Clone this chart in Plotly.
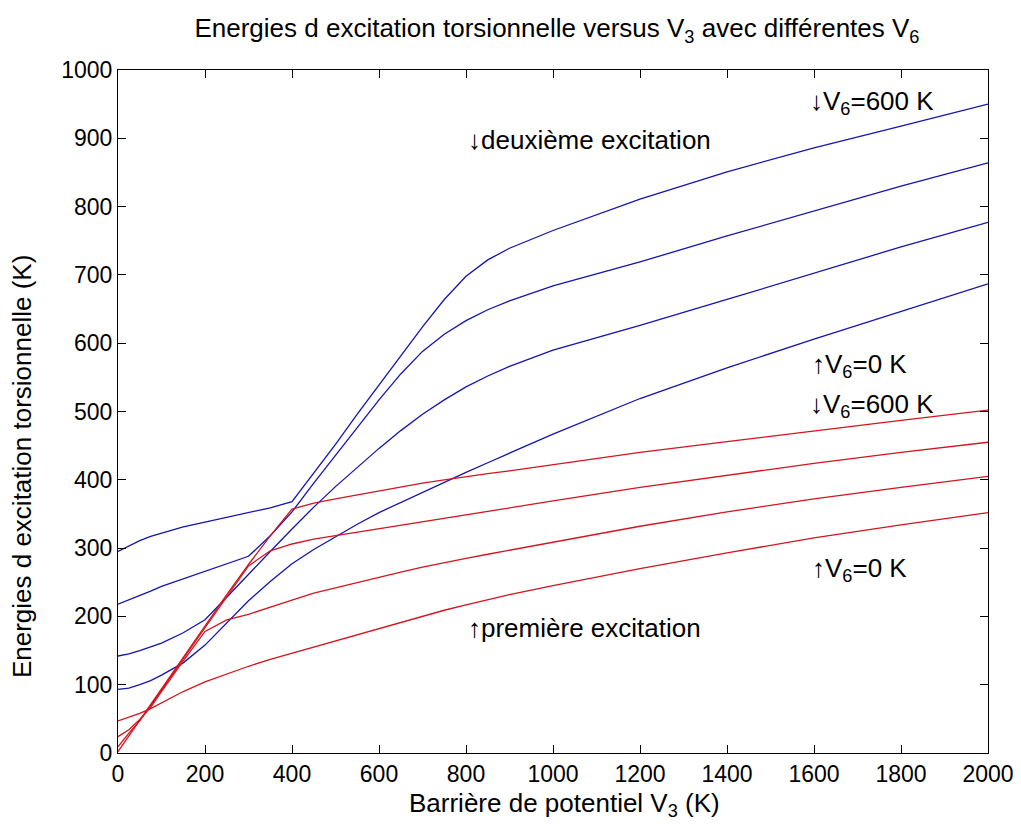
import plotly.graph_objects as go

# Barrier heights V3 (K) sampled along each curve
v3 = [0, 25, 50, 75, 100, 150, 200, 250, 300, 350, 400, 450, 500, 550, 600, 650,
      700, 750, 800, 850, 900, 1000, 1200, 1400, 1600, 1800, 2000]

# Second torsional excitation (blue), top to bottom at V3 = 2000 K
second_a = [295, 303, 311, 317, 322, 331, 338, 345, 352, 359, 368, 410, 452, 496, 539, 582,
            624, 664, 698, 722, 739, 765, 811, 851, 886, 918, 950]
second_b = [218, 224, 231, 237, 244, 255, 266, 276, 288, 318, 353, 395, 436, 477, 517, 555,
            588, 613, 633, 649, 662, 684, 719, 757, 794, 830, 864]
second_c = [142, 145, 150, 155, 161, 176, 195, 228, 262, 295, 328, 360, 390, 418, 446, 472,
            496, 517, 536, 552, 566, 590, 626, 664, 703, 741, 777]
second_d = [93, 95, 100, 106, 114, 132, 158, 190, 223, 251, 277, 298, 317, 335, 352, 367,
            382, 397, 411, 425, 439, 467, 519, 564, 606, 647, 687]

# First torsional excitation (red), top to bottom at V3 = 2000 K
first_a = [2, 25, 48, 70, 93, 140, 185, 232, 276, 318, 357, 366, 372, 378, 384, 390,
           395, 400, 405, 409, 413, 422, 440, 456, 472, 487, 502]
first_b = [9, 29, 47, 69, 92, 138, 183, 228, 274, 296, 306, 313, 318, 323, 328, 333,
           338, 343, 348, 353, 358, 369, 389, 407, 424, 440, 455]
first_c = [24, 34, 49, 67, 90, 135, 178, 195, 203, 214, 224, 234, 242, 250, 257, 265,
           272, 279, 285, 291, 297, 309, 332, 353, 372, 389, 405]
first_d = [47, 52, 58, 65, 73, 90, 104, 116, 127, 137, 146, 155, 164, 174, 183, 192,
           201, 209, 217, 225, 232, 245, 270, 293, 315, 334, 352]

BLUE = "#1414b0"
RED = "#d4141e"

fig = go.Figure()
for ys in (second_a, second_b, second_c, second_d):
    fig.add_trace(go.Scatter(x=v3, y=ys, mode="lines",
                             line=dict(color=BLUE, width=1.3), showlegend=False))
for ys in (first_a, first_b, first_c, first_d):
    fig.add_trace(go.Scatter(x=v3, y=ys, mode="lines",
                             line=dict(color=RED, width=1.3), showlegend=False))

FONT = "Liberation Sans, Arial, sans-serif"
TEXT_SIZE = 26

notes = [
    (800, 897, "\u2193deuxi\u00e8me excitation"),
    (1586, 953, "\u2193V<sub>6</sub>=600 K"),
    (1590, 568, "\u2191V<sub>6</sub>=0 K"),
    (1586, 509, "\u2193V<sub>6</sub>=600 K"),
    (1590, 268, "\u2191V<sub>6</sub>=0 K"),
    (800, 183, "\u2191premi\u00e8re excitation"),
]
for x, y, t in notes:
    fig.add_annotation(x=x, y=y, text=t, showarrow=False, xanchor="left",
                       yanchor="middle", font=dict(size=TEXT_SIZE, color="black", family=FONT))

# Axis titles placed as paper-anchored labels
fig.add_annotation(xref="paper", yref="paper", x=0.513, y=-0.076,
                   text="Barri\u00e8re de potentiel V<sub>3</sub> (K)", showarrow=False,
                   xanchor="center", yanchor="middle",
                   font=dict(size=TEXT_SIZE, color="black", family=FONT))
fig.add_annotation(xref="paper", yref="paper", x=-0.110, y=0.419,
                   text="Energies d excitation torsionnelle (K)", showarrow=False,
                   textangle=-90, xanchor="center", yanchor="middle",
                   font=dict(size=TEXT_SIZE, color="black", family=FONT))

axis_common = dict(showgrid=False, zeroline=False, showline=True, linecolor="black",
                   linewidth=1, mirror="ticks", ticks="inside", ticklen=8,
                   tickcolor="black", automargin=False,
                   tickfont=dict(size=23, color="black", family=FONT))

fig.update_layout(
    width=1021, height=830,
    margin=dict(l=118, r=33, t=70, b=77),
    paper_bgcolor="white", plot_bgcolor="white",
    title=dict(text="Energies d excitation torsionnelle versus V<sub>3</sub> avec diff\u00e9rentes V<sub>6</sub>",
               x=0.5455, xanchor="center", y=0.966, yanchor="middle",
               font=dict(size=TEXT_SIZE, color="black", family=FONT)),
    xaxis=dict(range=[0, 2000], tickvals=list(range(0, 2001, 200)), **axis_common),
    yaxis=dict(range=[0, 1000], tickvals=list(range(0, 1001, 100)), **axis_common),
)

fig.write_html("out.html")
